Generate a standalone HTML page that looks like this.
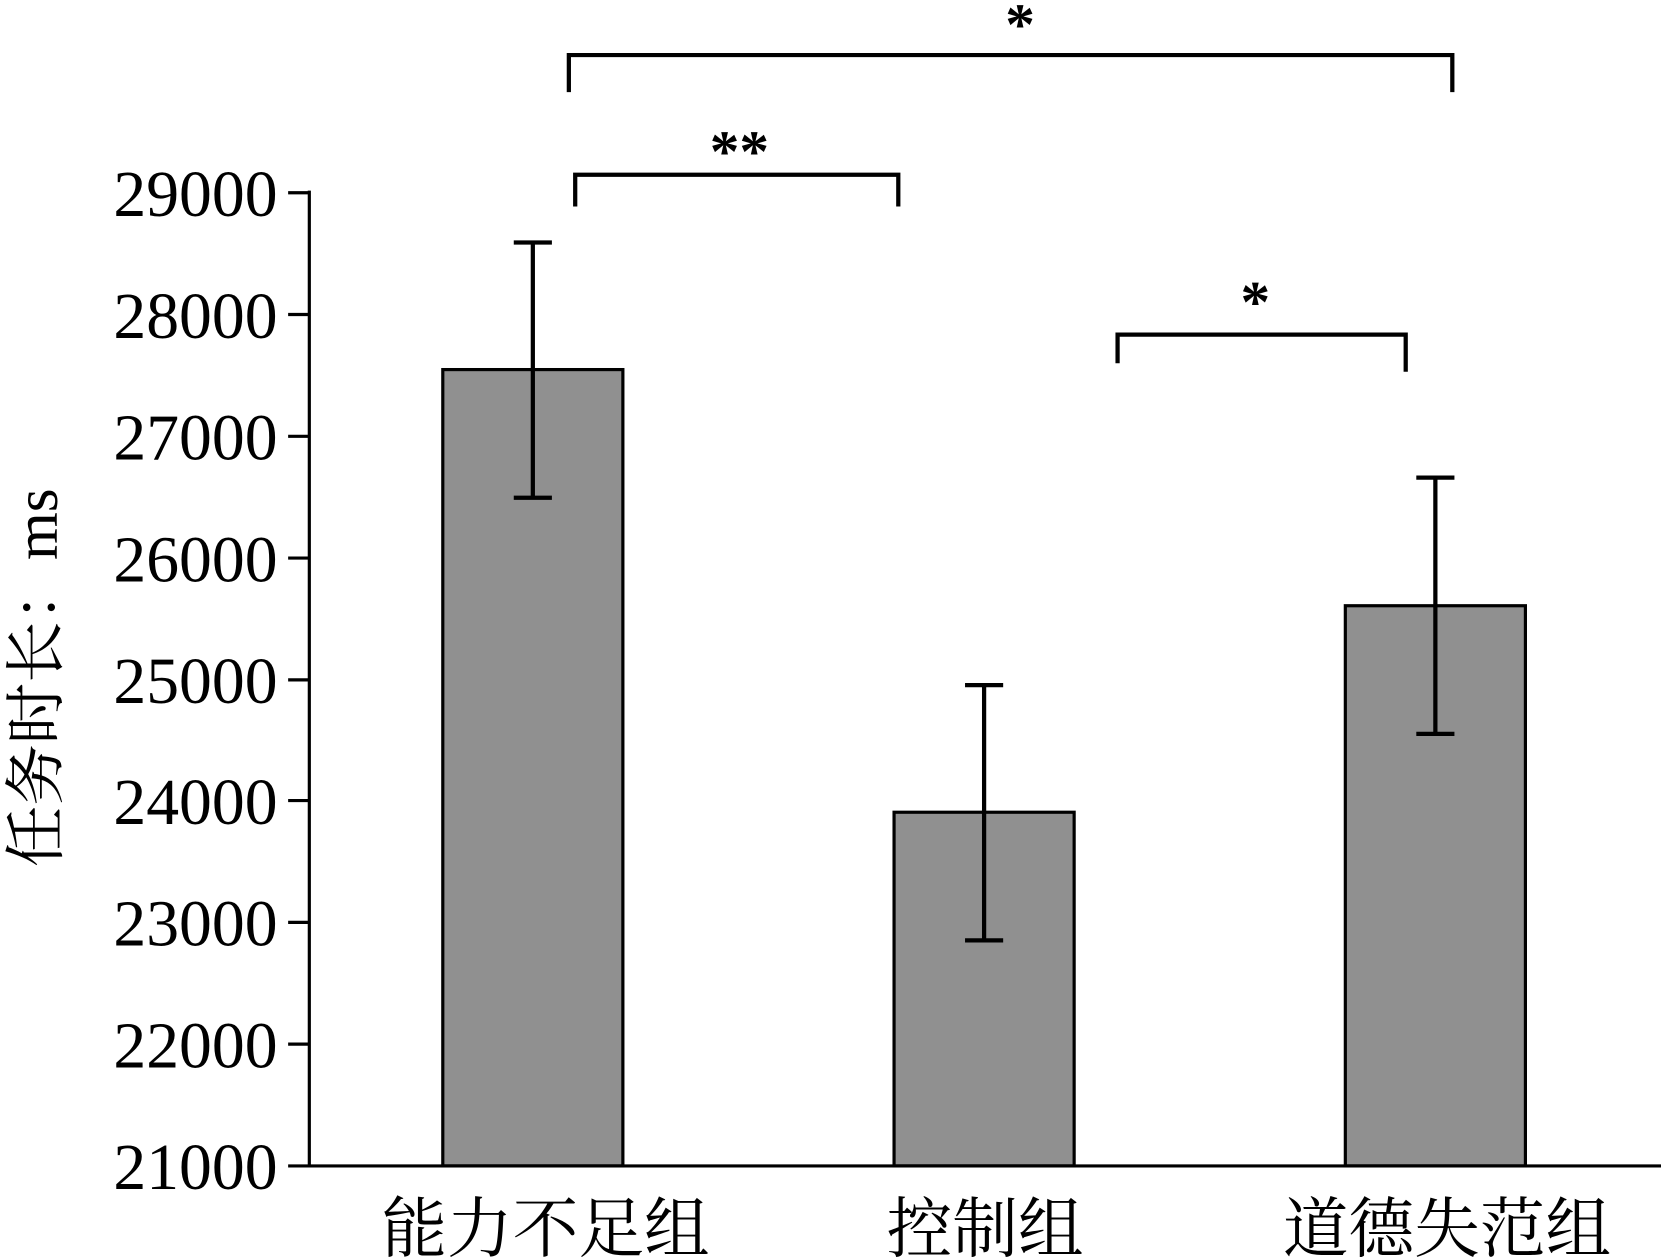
<!DOCTYPE html>
<html><head><meta charset="utf-8"><style>
html,body{margin:0;padding:0;background:#fff;width:1661px;height:1257px;overflow:hidden}
svg{display:block}
</style></head><body>
<svg width="1661" height="1257" viewBox="0 0 1568 1187" preserveAspectRatio="none" xmlns="http://www.w3.org/2000/svg">
<g font-family="'Liberation Serif','Noto Serif CJK SC',serif" fill="#000">
<rect x="418" y="349" width="170" height="752" fill="#909090" stroke="#000" stroke-width="3"/>
<rect x="844" y="767" width="170" height="334" fill="#909090" stroke="#000" stroke-width="3"/>
<rect x="1270" y="572" width="170" height="529" fill="#909090" stroke="#000" stroke-width="3"/>
<g stroke="#000" stroke-width="4" fill="none">
<path d="M503 229V470M485 229H521M485 470H521"/>
<path d="M929 647V888M911 647H947M911 888H947"/>
<path d="M1355 451V693M1337 451H1373M1337 693H1373"/>
<path d="M537 87V52H1371V87"/>
<path d="M543 195V165H848V195"/>
<path d="M1055 343V316H1327V351"/>
</g>
<g stroke="#000" stroke-width="3" fill="none">
<path d="M292 180V1101H1568"/>
<path d="M272 182H292M272 297H292M272 412H292M272 527H292M272 642H292M272 756H292M272 871H292M272 986H292M272 1101H292"/>
</g>
<g font-size="62" text-anchor="end">
<text x="262" y="204">29000</text>
<text x="262" y="319">28000</text>
<text x="262" y="434">27000</text>
<text x="262" y="549">26000</text>
<text x="262" y="664">25000</text>
<text x="262" y="778">24000</text>
<text x="262" y="893">23000</text>
<text x="262" y="1008">22000</text>
<text x="262" y="1123">21000</text>
</g>
<g font-size="56" text-anchor="middle" font-weight="bold">
<text x="963" y="42">*</text>
<text x="698" y="162">**</text>
<text x="1185" y="304">*</text>
</g>
<g font-size="62" text-anchor="middle">
<text x="515" y="1182">能力不足组</text>
<text x="930" y="1182">控制组</text>
<text x="1366" y="1182">道德失范组</text>
</g>
<text transform="translate(54,640) rotate(-90)" font-size="58" text-anchor="middle">任务时长：ms</text>
</g>
</svg>
</body></html>
